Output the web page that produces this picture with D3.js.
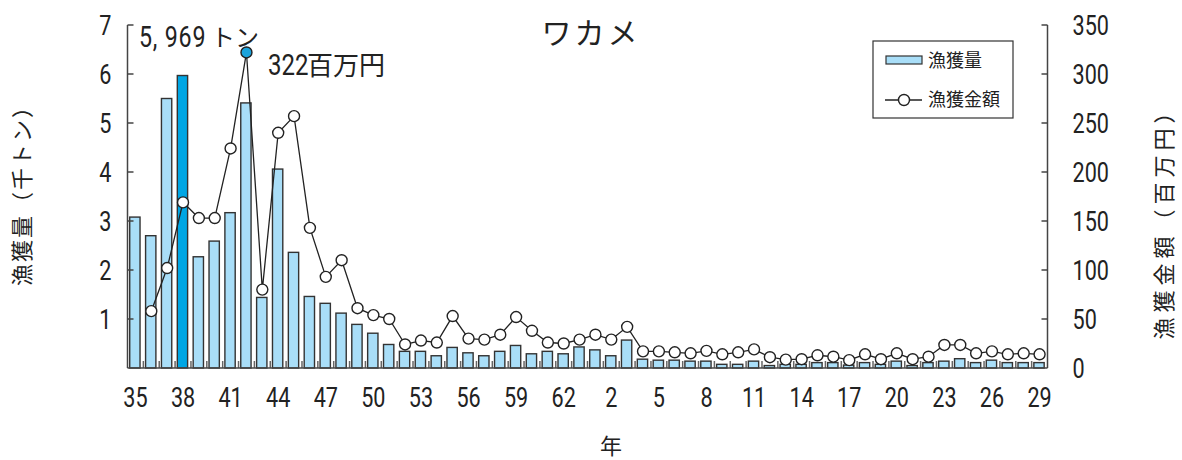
<!DOCTYPE html>
<meta charset="utf-8">
<head>
  <title>ワカメ</title>
</head>

<style>
body { margin: 0; background: #fff; }
text { fill: #222; }
.num { font-family: "Roboto", "Liberation Sans", sans-serif; }
.jp { font-family: "Noto Sans CJK JP", sans-serif; }
</style>

<body>
  <svg width="1182" height="460"></svg>

  <script src="https://cdn.jsdelivr.net/npm/d3@7"></script>
  <script>
// 昭和35年〜昭和63年, 平成元年〜平成29年
var years = ["35","36","37","38","39","40","41","42","43","44","45","46","47","48","49",
  "50","51","52","53","54","55","56","57","58","59","60","61","62","63",
  "1","2","3","4","5","6","7","8","9","10","11","12","13","14","15","16","17","18","19",
  "20","21","22","23","24","25","26","27","28","29"];

// 漁獲量 (千トン)
var catchTons = [3.08,2.70,5.50,5.969,2.27,2.59,3.17,5.41,1.44,4.06,2.36,1.46,1.32,1.12,0.89,
  0.71,0.48,0.34,0.34,0.25,0.42,0.31,0.25,0.34,0.46,0.29,0.34,0.29,0.43,
  0.37,0.25,0.57,0.18,0.16,0.16,0.14,0.14,0.075,0.075,0.14,0.05,0.075,0.075,0.11,0.11,0.06,0.11,0.075,
  0.14,0.05,0.11,0.14,0.19,0.11,0.16,0.11,0.11,0.11];

// 漁獲金額 (百万円)
var catchValue = [null,58,102,169,153,153,224,322,80,240,257,143,93,110,61,
  54,50,24,28,26,53,30,29,34,52,38,26,25,29,
  34,29,42,17,17,16,15,17.5,14,16,19,11,8.5,9,13,11.5,8,14,9,
  15,9,11.5,23.5,23.5,15,17,14,15,14];

var leftTicks = [1,2,3,4,5,6,7];
var rightTicks = [0,50,100,150,200,250,300,350];
var tickYears = ["35","38","41","44","47","50","53","56","59","62","2","5","8","11","14","17","20","23","26","29"];

var maxTonIdx = 3, maxValIdx = 7;

var x0 = 127.5, x1 = 1047.5, yTop = 25, yBot = 368;
var narrow = 0.8;

var svg = d3.select("svg");

var x = d3.scaleBand().domain(d3.range(years.length)).range([x0, x1]);
var step = x.step();
var yL = d3.scaleLinear().domain([0, 7]).range([yBot, yTop]);
var yR = d3.scaleLinear().domain([0, 350]).range([yBot, yTop]);

// condensed numbers: place at (px, py) and squeeze horizontally
function numAt(sel, px, py) {
  return sel.attr("class", "num")
    .attr("transform", function(d, i) {
      var a = typeof px === "function" ? px(d, i) : px;
      var b = typeof py === "function" ? py(d, i) : py;
      return "translate(" + a + "," + b + ") scale(" + narrow + ",1)";
    });
}

// bars
svg.append("g").selectAll("rect")
  .data(catchTons)
  .enter().append("rect")
  .attr("x", function(d, i) { return x(i) + step * 0.14; })
  .attr("width", step * 0.65)
  .attr("y", function(d) { return yL(d); })
  .attr("height", function(d) { return yBot - yL(d); })
  .attr("fill", function(d, i) { return i === maxTonIdx ? "#00a6e4" : "#a9def8"; })
  .attr("stroke", "#333")
  .attr("stroke-width", 1.4);

// category ticks at the bottom
svg.append("g").selectAll("line")
  .data(d3.range(1, years.length))
  .enter().append("line")
  .attr("x1", function(i) { return x(i); })
  .attr("x2", function(i) { return x(i); })
  .attr("y1", yBot)
  .attr("y2", yBot - 7)
  .attr("stroke", "#666")
  .attr("stroke-width", 1.5);

// axes frame
var axisColor = "#444";
svg.append("line").attr("x1", x0).attr("x2", x0).attr("y1", yTop).attr("y2", yBot)
  .attr("stroke", axisColor).attr("stroke-width", 1.5);
svg.append("line").attr("x1", x1).attr("x2", x1).attr("y1", yTop).attr("y2", yBot)
  .attr("stroke", axisColor).attr("stroke-width", 1.5);
svg.append("line").attr("x1", x0).attr("x2", x1).attr("y1", yBot).attr("y2", yBot)
  .attr("stroke", axisColor).attr("stroke-width", 1.5);

// left axis
var gl = svg.append("g");
gl.selectAll("line").data(leftTicks).enter().append("line")
  .attr("x1", x0).attr("x2", x0 + 6)
  .attr("y1", function(d) { return yL(d); })
  .attr("y2", function(d) { return yL(d); })
  .attr("stroke", axisColor).attr("stroke-width", 1.5);
numAt(gl.selectAll("text").data(leftTicks).enter().append("text"),
    x0 - 16, function(d) { return yL(d); })
  .attr("dy", "0.36em")
  .attr("text-anchor", "end")
  .attr("font-size", 27)
  .text(function(d) { return d; });

// right axis
var gr = svg.append("g");
gr.selectAll("line").data(rightTicks.slice(1)).enter().append("line")
  .attr("x1", x1 - 6).attr("x2", x1)
  .attr("y1", function(d) { return yR(d); })
  .attr("y2", function(d) { return yR(d); })
  .attr("stroke", axisColor).attr("stroke-width", 1.5);
numAt(gr.selectAll("text").data(rightTicks).enter().append("text"),
    x1 + 25, function(d) { return yR(d); })
  .attr("dy", "0.36em")
  .attr("font-size", 27)
  .text(function(d) { return d; });

// bottom labels
numAt(svg.append("g").selectAll("text").data(tickYears).enter().append("text"),
    function(d) { return x(years.indexOf(d)) + step / 2; }, 407)
  .attr("text-anchor", "middle")
  .attr("font-size", 27)
  .text(function(d) { return d; });

// line
var line = d3.line()
  .defined(function(d) { return d != null; })
  .x(function(d, i) { return x(i) + step / 2; })
  .y(function(d) { return yR(d); });

svg.append("path")
  .datum(catchValue)
  .attr("d", line)
  .attr("fill", "none")
  .attr("stroke", "#222")
  .attr("stroke-width", 1.3);

svg.append("g").selectAll("circle")
  .data(catchValue.map(function(v, i) { return { v: v, i: i }; }).filter(function(d) { return d.v != null; }))
  .enter().append("circle")
  .attr("cx", function(d) { return x(d.i) + step / 2; })
  .attr("cy", function(d) { return yR(d.v); })
  .attr("r", 5.5)
  .attr("fill", function(d) { return d.i === maxValIdx ? "#1aa3dc" : "#fff"; })
  .attr("stroke", "#222")
  .attr("stroke-width", 1.4);

// annotations
numAt(svg.append("text"), 139, 47).attr("font-size", 29).attr("letter-spacing", 1).text("5, 969");
svg.append("text").attr("class", "jp").attr("x", 211).attr("y", 46)
  .attr("font-size", 24).text("トン");
numAt(svg.append("text"), 268, 75).attr("font-size", 30).text("322");
svg.append("text").attr("class", "jp").attr("x", 307).attr("y", 75)
  .attr("font-size", 26).text("百万円");

// title
svg.append("text").attr("class", "jp").attr("x", 591).attr("y", 44)
  .attr("text-anchor", "middle").attr("font-size", 30).attr("letter-spacing", 3)
  .text("ワカメ");

// axis titles
svg.append("text").attr("class", "jp")
  .attr("transform", "translate(30,190) rotate(-90)")
  .attr("text-anchor", "middle").attr("font-size", 22).attr("letter-spacing", 2)
  .text("漁獲量（千トン）");
svg.append("text").attr("class", "jp")
  .attr("transform", "translate(1172,218) rotate(-90)")
  .attr("text-anchor", "middle").attr("font-size", 22).attr("letter-spacing", 5)
  .text("漁獲金額（百万円）");
svg.append("text").attr("class", "jp").attr("x", 611).attr("y", 454)
  .attr("text-anchor", "middle").attr("font-size", 22).text("年");

// legend
var lg = svg.append("g");
lg.append("rect").attr("x", 873).attr("y", 41).attr("width", 140).attr("height", 77)
  .attr("fill", "#fff").attr("stroke", "#333").attr("stroke-width", 1.2);
lg.append("rect").attr("x", 886).attr("y", 56).attr("width", 36).attr("height", 8)
  .attr("fill", "#a9def8").attr("stroke", "#333").attr("stroke-width", 1.2);
lg.append("text").attr("class", "jp").attr("x", 928).attr("y", 61).attr("dy", "0.35em")
  .attr("font-size", 18).text("漁獲量");
lg.append("line").attr("x1", 885).attr("x2", 922).attr("y1", 100).attr("y2", 100)
  .attr("stroke", "#222").attr("stroke-width", 1.3);
lg.append("circle").attr("cx", 904).attr("cy", 100).attr("r", 5.5)
  .attr("fill", "#fff").attr("stroke", "#222").attr("stroke-width", 1.4);
lg.append("text").attr("class", "jp").attr("x", 928).attr("y", 100).attr("dy", "0.35em")
  .attr("font-size", 18).text("漁獲金額");
  </script>
</body>
</html>
